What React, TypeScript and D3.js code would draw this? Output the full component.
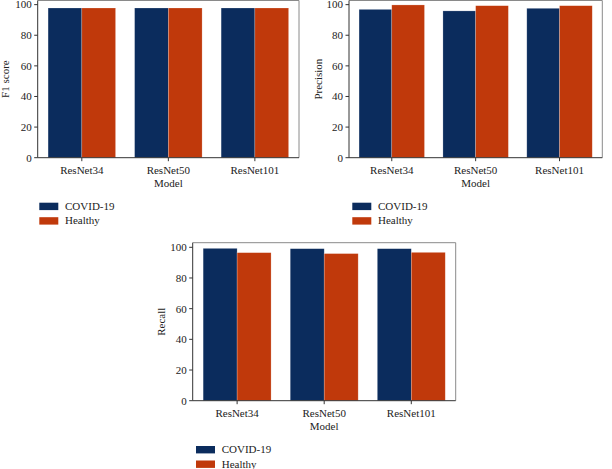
import React from "react";
import * as d3 from "d3";

const models = ["ResNet34", "ResNet50", "ResNet101"];
const series = ["COVID-19", "Healthy"];
const colors = ["#0b2c5d", "#c0390b"];
const yTicks = [0, 20, 40, 60, 80, 100];

const f1Covid = [97.8, 97.8, 97.8];
const f1Healthy = [97.8, 97.8, 97.8];
const precCovid = [96.9, 95.9, 97.6];
const precHealthy = [99.8, 99.3, 99.3];
const recCovid = [99.3, 99.1, 99.1];
const recHealthy = [96.5, 95.9, 96.7];

const FONT = "'Liberation Serif', 'Times New Roman', serif";

type Panel = {
  label: string;
  values: number[][];
  left: number;
  right: number;
  frameTop: number;
  zeroY: number;
  ymax: number;
  yLabelX: number;
  legendX: number;
  legendY: number;
};

const panels: Panel[] = [
  { label: "F1 score", values: [f1Covid, f1Healthy], left: 37.7, right: 299, frameTop: 0.5, zeroY: 157.7, ymax: 102.7, yLabelX: 9.2, legendX: 39.3, legendY: 202.7 },
  { label: "Precision", values: [precCovid, precHealthy], left: 349, right: 602.3, frameTop: 0.5, zeroY: 157.7, ymax: 102.7, yLabelX: 321.7, legendX: 352.3, legendY: 202.7 },
  { label: "Recall", values: [recCovid, recHealthy], left: 192.7, right: 455.7, frameTop: 242.7, zeroY: 400.7, ymax: 103, yLabelX: 165.2, legendX: 196, legendY: 446 },
];

function Chart({ p }: { p: Panel }) {
  const x = d3.scaleBand<string>().domain(models).range([p.left, p.right]).paddingInner(0.22).paddingOuter(0.12);
  const x1 = d3.scaleBand<string>().domain(series).range([0, x.bandwidth()]);
  const y = d3.scaleLinear().domain([0, p.ymax]).range([p.zeroY, p.frameTop]);
  const fs = 11;
  return (
    <g fontFamily={FONT} fill="#222">
      {models.map((m, i) => (
        <g key={m}>
          {series.map((s, j) => (
            <rect
              key={s}
              x={(x(m) as number) + (x1(s) as number)}
              y={y(p.values[j][i])}
              width={x1.bandwidth()}
              height={y(0) - y(p.values[j][i])}
              fill={colors[j]}
              stroke="#ffffff"
              strokeOpacity={0.35}
              strokeWidth={0.6}
            />
          ))}
        </g>
      ))}
      <line x1={p.left} x2={p.right} y1={p.frameTop} y2={p.frameTop} stroke="#8a8a8a" strokeWidth={1} />
      <line x1={p.right} x2={p.right} y1={p.frameTop} y2={p.zeroY} stroke="#8a8a8a" strokeWidth={1} />
      <line x1={p.left} x2={p.left} y1={p.frameTop} y2={p.zeroY} stroke="#333" strokeWidth={1} />
      <line x1={p.left} x2={p.right} y1={p.zeroY} y2={p.zeroY} stroke="#333" strokeWidth={1} />
      {yTicks.map((t) => (
        <g key={t}>
          <line x1={p.left - 3.5} x2={p.left} y1={y(t)} y2={y(t)} stroke="#333" />
          <text x={p.left - 6} y={y(t)} dy="0.35em" textAnchor="end" fontSize={fs}>
            {t}
          </text>
        </g>
      ))}
      {models.map((m) => {
        const cx = (x(m) as number) + x.bandwidth() / 2;
        return (
          <g key={m}>
            <line x1={cx} x2={cx} y1={p.zeroY} y2={p.zeroY + 3.5} stroke="#333" />
            <text x={cx} y={p.zeroY + 16} textAnchor="middle" fontSize={fs}>
              {m}
            </text>
          </g>
        );
      })}
      <text x={(p.left + p.right) / 2} y={p.zeroY + 29} textAnchor="middle" fontSize={fs}>
        Model
      </text>
      <text
        transform={`translate(${p.yLabelX},${(p.frameTop + p.zeroY) / 2}) rotate(-90)`}
        textAnchor="middle"
        fontSize={fs}
      >
        {p.label}
      </text>
      {series.map((s, j) => (
        <g key={s}>
          <rect x={p.legendX} y={p.legendY + j * 14.5} width={19} height={7.4} fill={colors[j]} />
          <text x={p.legendX + 25.7} y={p.legendY + j * 14.5 + 7.2} fontSize={fs}>
            {s}
          </text>
        </g>
      ))}
    </g>
  );
}

export default function App() {
  return (
    <div style={{ position: "absolute", left: 0, top: 0 }}>
      <svg width={612} height={469} style={{ display: "block", background: "#fff" }}>
        {panels.map((p) => (
          <Chart key={p.label} p={p} />
        ))}
      </svg>
    </div>
  );
}
